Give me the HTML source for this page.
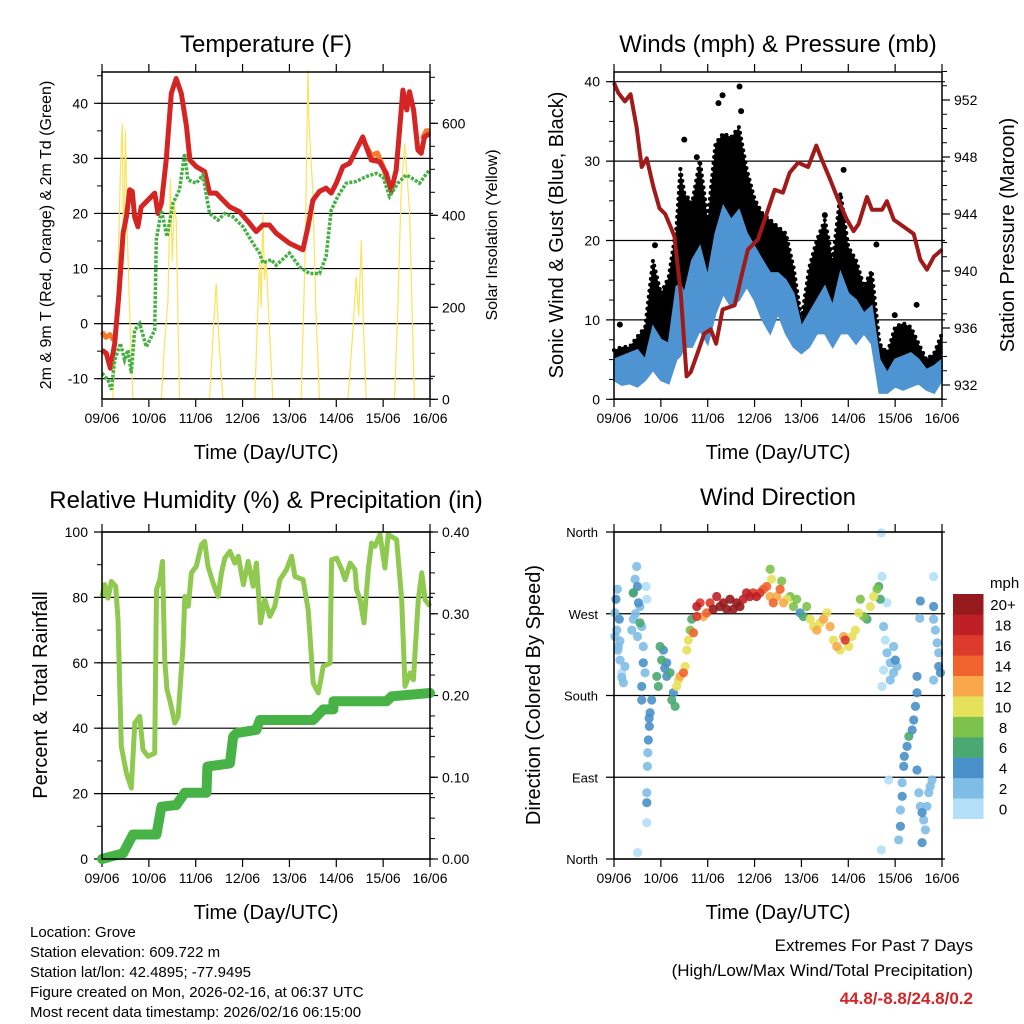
<!DOCTYPE html>
<html><head><meta charset="utf-8"><style>
body{margin:0;background:#fff;}
svg{display:block;font-family:"Liberation Sans",sans-serif;}
</style></head><body>
<svg id="c" width="1024" height="1024" viewBox="0 0 1024 1024" xmlns="http://www.w3.org/2000/svg">
<rect width="1024" height="1024" fill="#fff"/>
<text x="266" y="52" font-size="24" text-anchor="middle">Temperature (F)</text>
<text x="778" y="52" font-size="24" text-anchor="middle">Winds (mph) &amp; Pressure (mb)</text>
<text x="266" y="508" font-size="24" text-anchor="middle">Relative Humidity (%) &amp; Precipitation (in)</text>
<text x="778" y="505" font-size="24" text-anchor="middle">Wind Direction</text>
<text x="266" y="459" font-size="20" text-anchor="middle">Time (Day/UTC)</text>
<text x="778" y="459" font-size="20" text-anchor="middle">Time (Day/UTC)</text>
<text x="266" y="919" font-size="20" text-anchor="middle">Time (Day/UTC)</text>
<text x="778" y="919" font-size="20" text-anchor="middle">Time (Day/UTC)</text>
<text transform="translate(51,235) rotate(-90)" font-size="16" text-anchor="middle">2m &amp; 9m T (Red, Orange) &amp; 2m Td (Green)</text>
<text transform="translate(497,235) rotate(-90)" font-size="16" text-anchor="middle">Solar Insolation (Yellow)</text>
<text transform="translate(563,235) rotate(-90)" font-size="20" text-anchor="middle">Sonic Wind &amp; Gust (Blue, Black)</text>
<text transform="translate(1014,235) rotate(-90)" font-size="20" text-anchor="middle">Station Pressure (Maroon)</text>
<text transform="translate(47,695) rotate(-90)" font-size="20" text-anchor="middle">Percent &amp; Total Rainfall</text>
<text transform="translate(540,695) rotate(-90)" font-size="20" text-anchor="middle">Direction (Colored By Speed)</text>
<g font-size="15">
<text x="30" y="937">Location: Grove</text>
<text x="30" y="957">Station elevation: 609.722 m</text>
<text x="30" y="977">Station lat/lon: 42.4895; -77.9495</text>
<text x="30" y="997">Figure created on Mon, 2026-02-16, at 06:37 UTC</text>
<text x="30" y="1017">Most recent data timestamp: 2026/02/16 06:15:00</text>
</g>
<g text-anchor="end" font-size="17">
<text x="973" y="951">Extremes For Past 7 Days</text>
<text x="973" y="976">(High/Low/Max Wind/Total Precipitation)</text>
<text x="973" y="1004" fill="#d0262a" font-weight="bold">44.8/-8.8/24.8/0.2</text>
</g>
<text x="990" y="588" font-size="15">mph</text>
</svg>
<script>
// ---- Temperature data (hours since 09/06 00Z) ----
const tempHours=[0,2.2,4.3,6.5,8.7,10.8,12.5,14.2,15.5,16.7,18.4,20.1,23.5,27,28.7,30.4,32.9,35.5,38,40.6,43.3,45,48.3,52.6,55.1,58.5,62,65.4,70.5,75.6,79,82.4,85.8,89.2,96,102.9,105.5,108,111.4,114.8,117.4,120,123.4,126.8,130.2,133.6,135.3,137.9,142.2,145.6,148.1,150.7,154.1,156.1,157.5,159.6,161.8,163.5,165.2,167.7];
const tempRed=[-4.8,-5.4,-8.1,-3.6,5.5,16.4,19.4,24.3,24,19.4,17.6,21.2,22.4,23.7,20,21.8,29.7,41.8,44.5,41.8,35.8,29.7,28.5,27.6,23.7,23.7,22.4,21.2,20.3,18.2,16.7,17.9,17.9,16.4,14.6,13.4,17.6,22.4,24,24.6,23.7,25.5,28.5,29.1,31.5,33.9,32.1,29.7,29.4,27.3,24,27.9,42.4,38.8,42.1,38.8,31.5,30.9,33.9,34.5];
// orange segments separated by null gaps
const orangeHours=[0,2,4,6,null,133,135,138,141,144,146,null,164,166,168];
const tempOrange=[-1.5,-2.5,-2,-3,null,33.5,32.5,30.5,31,28.5,26,null,33.5,35,35];
const dewHours=[0,3,4.8,6.5,9.4,11.6,13.3,15,16.7,19.3,22.7,27,27.8,30.4,33.3,36.3,39.7,42.3,44,48.3,51.7,55.1,59.4,62.8,67.1,72.2,77.3,80.7,82.4,86.7,89.2,96,101.2,106.3,111.4,114.8,117.4,120.8,125.1,130.2,135.3,140.4,143.9,147.3,151.5,155.8,160.1,162.6,167.7];
const dewGreen=[-9,-10.2,-12,-6.6,-3.6,-6.6,-4.8,-9,-1.2,0,-4.2,-1.2,15.2,20.6,15.8,21.8,24.3,30.9,26.1,25.5,27,20,18.8,20,19.4,17.6,14.6,12.8,11,11.6,10.6,12.8,10.3,9.1,9.1,12.2,20.6,23.1,25.5,25.8,26.7,27.3,26.7,23.1,25.5,27,26.1,25.5,27.9];
const solarHours=[0,5.6,8,9.5,10.4,11,12,13,14.5,15.9,30.4,32,33.8,35,36,37,38,39.7,55.1,57,58.5,60,62,78.2,80.7,81.5,82.4,83.2,84.1,87.5,102,104,105.5,106,108,109.5,111.4,126,128.5,130.2,131.5,132.8,134,135.3,149.8,151.5,153.2,155,157.5,158.5,160,168];
const solarW=[0,0,250,500,600,300,585,350,150,0,0,120,216,480,300,426,390,0,0,150,252,120,0,0,300,200,404,260,300,0,0,300,716,600,448,200,0,0,150,267,180,346,150,0,0,200,448,556,411,250,0,0];
const tempTicks=[-10,0,10,20,30,40];
const solarTicks=[0,200,400,600];
const dayLabels=["09/06","10/06","11/06","12/06","13/06","14/06","15/06","16/06"];
// ---- Wind data ----
const windHours=[0,4,8,12,16,20,24,28,32,34,36,40,44,48,52,56,60,64,68,72,76,80,84,88,92,96,100,104,108,112,116,120,124,128,132,136,140,144,148,152,156,160,164,168];
const windLow=[2.4,1.8,2,1.6,2.4,3.7,2.4,2,5,5.5,6.6,6.6,8.7,7,10.8,13.3,11.7,12.5,14.2,12.5,10,8.3,10.8,8.3,6.6,5.8,6.6,8.3,8.3,6.6,8.3,8.3,7,8.3,7,0.8,0.8,1.6,1.2,1.6,2,1.2,0.8,2.4];
const windHigh=[5,5.4,5.8,6.2,5,9.1,7.5,7,14.2,14.5,13.3,17.5,19.2,15.4,20.9,24.3,22.6,23.8,20.9,19.2,17.5,15.9,15.9,15,13.3,9.1,10.8,12.5,14.2,11.7,15.9,13.3,12.5,10.8,11.7,5,3.3,5,5.4,5.8,5,3.7,4.2,5];
const gustHigh=[6.2,6.6,6.6,7.9,9.1,17.5,13.3,15.4,21.7,29,26,24.7,30.1,22.6,32.2,33.5,33,34.3,28.9,25.2,23.4,22.6,21.7,20.9,16.6,10,16.6,20.1,22.6,17.5,26,19.2,17.5,14.2,16.2,7,5.8,9.1,9.6,9.1,7,5,5.8,8.3];
const gustOutlierHours=[42.4,36,53.5,55.6,64.3,65.1,21,3,117.6,108,134.4,155,143.8];
const gustOutliers=[30.5,32.7,37.3,38.3,39.4,36.3,19.4,9.4,28.9,23.2,19.5,11.9,10.6];
const presHours=[0,2.2,5.6,8.5,11.6,14.2,16.8,20.2,23.3,26.2,29,31,34.2,37.2,39.3,42.7,46.2,49.6,52.3,55.6,61.8,65.2,68.6,73.7,78.9,82.3,86.5,90,94.3,99.4,103.6,106.5,110.8,114.2,119.3,122.7,125.3,129.6,132.1,137.3,139.8,143.3,148.4,153.5,156.9,160.3,163.8,168];
const presMb=[953.2,952.5,951.9,952.4,950.1,947.3,947.9,945.9,944.4,944,943.1,942.4,938.4,932.6,932.9,934.2,935.6,935.9,934.9,937.3,937.6,939.6,941.5,942.2,944.3,945.7,945.5,946.9,947.6,947.3,948.8,947.8,946.4,945.2,943.6,942.8,943.3,945.2,944.3,944.3,944.9,943.6,943.1,942.6,940.8,940.1,941,941.5];
const windTicks=[0,10,20,30,40];
const presTicks=[932,936,940,944,948,952];
// ---- RH / precip ----
const rhHours=[0,1.4,3.1,4.8,7,8.2,9.9,12.5,15,16.8,19.3,21,23.6,27,27.9,29.6,31,32.1,33.3,34.7,37.3,39,41.5,42.4,44.2,45.8,48.3,50.9,52.6,54.3,56.9,59.4,61.2,62.9,65.5,68,69.8,72.4,74.9,77.4,79.1,81.2,83.4,86,88.5,91.1,94.5,97.1,98.8,103,105.6,108.2,110.8,113.3,116.8,117.6,120.2,122.8,124.5,127.1,129.6,130.4,132.2,134.2,136.4,138.1,139.8,142.4,144.9,146.6,150.9,153.5,155.2,157.8,159.5,162,163.8,165.5,168];
const rhPct=[80.3,83.9,79.8,84.9,83.4,73.2,34.5,26.3,21.7,41.6,43.6,33.4,31.4,32.4,82.4,85.4,91,61,51.8,48.7,41.6,43.6,65,80.3,77.3,87.5,89.5,96.1,97.1,89.5,84.4,80.3,87.5,92,94.1,90.5,92.6,83.9,91,83.4,90.5,72.2,79.3,74.2,77.3,85.4,88.5,92.6,86.4,85.4,76.2,53.8,50.8,58.9,59.9,91.5,92,88.5,85.4,90.5,88.5,82.4,79.3,72.2,88.5,96.6,95.6,99.2,89,99.2,97.7,79.3,52.8,56.9,54.8,79.3,87.5,79.3,77.3];
const precipHours=[0,10.8,15.9,27.9,30.4,38.1,42.4,53.5,54,65.5,67.2,69,79.1,80.9,108.2,113.3,118.5,118.5,145.8,148.4,168];
const precipIn=[0,0.007,0.03,0.03,0.064,0.066,0.081,0.081,0.113,0.117,0.15,0.154,0.158,0.17,0.17,0.183,0.183,0.193,0.193,0.199,0.203];
const rhTicks=[0,20,40,60,80,100];
const precipTicks=["0.00","0.10","0.20","0.30","0.40"];
// ---- Wind direction obs: [hour, degrees, mph] ----
const dirObs=[[0.5,271,3],[1.4,252,2],[2.2,234,3],[3.1,219,2],[3.9,205,1],[4.8,194,2],[1,286,4],[2.7,264,4],[5.6,212,3],[1.7,297,3],[0.5,245,3],[3,240,2],[2,230,2],[4,200,2],
[9.9,293,4],[10.8,308,3],[11.6,322,2],[12.5,282,4],[9.9,264,3],[9.1,252,2],[12,300,4],[13.3,278,3],[14.2,256,2],[15,234,3],[15,216,4],[14.2,190,4],[14.2,175,4],[16.4,300,1],[16.8,286,1],[15.9,205,2],[13.3,260,6],[9.9,293,6],[11,270,3],[12,245,3],
[18.5,161,4],[19.3,175,4],[18.1,146,4],[17.6,131,4],[17.3,117,2],[17.1,102,2],[16.8,73,3],[16.8,62,4],[16.8,40,1],[12.1,7,1],[18,155,4],
[21.9,201,7],[23.6,234,6],[25.3,230,4],[27,216,4],[24.4,219,6],[22.7,190,6],[28.7,205,6],[29.6,175,6],[31.3,168,6],[30.4,183,5],[27,201,4],[26,210,4],[32.1,190,10],[33.8,201,12],[35.6,205,14],[33,197,10],[36.4,212,10],[37.3,230,10],[38.1,241,10],[39,252,8],[39.8,264,6],[40.7,249,14],[42.4,267,16],
[42.4,278,18],[44.1,282,16],[45.8,267,12],[47.5,271,14],[49.2,282,16],[50.9,275,20],[52.6,289,18],[54.3,278,20],[56,282,20],[57.7,275,20],[59.4,286,20],[61.1,275,20],[62.8,282,20],[64.5,278,20],[66.2,286,18],[67.9,293,18],[69.6,289,18],[71.3,293,16],[73,289,18],[74.8,293,16],[76.5,297,14],[78.2,300,14],[79.9,289,12],[81.6,282,14],[80.7,308,10],[80,319,8],[83.4,289,12],[85.9,306,8],[85.1,297,14],[86.8,282,12],[88.5,286,10],[90.2,289,8],[91.9,278,8],[93.6,286,8],[95.3,271,4],[97,267,6],[98.7,278,8],[100.5,264,10],[102.2,256,10],[103.9,252,12],[105.6,260,10],[107.3,264,12],[109,271,10],[110.7,256,12],[112.4,241,10],[114.1,234,12],[115.8,230,10],[117.6,245,12],[118.4,241,16],[120.2,234,10],[121.9,245,10],[123.6,252,10],[125.3,271,10],[126.2,286,8],[127.9,267,8],[129.6,264,6],[131.3,278,10],[133,289,10],[134.7,297,8],[136.4,286,6],[135.6,300,6],
[137.3,311,1],[138.1,256,2],[139,241,1],[139.8,227,2],[138.1,208,1],[137.3,190,1],[141.5,216,3],[143.2,234,2],[144.1,219,4],[143.2,205,3],[144.9,212,3],[141.5,197,2],[139.8,282,1],[136.9,359,1],[140.7,87,1],[136.9,10,1],
[155.2,201,4],[155.2,183,4],[154.4,168,4],[153.5,153,4],[152.7,142,4],[151,135,6],[150.1,124,4],[148.7,113,4],[148.4,102,4],[147.6,84,3],[147.6,69,4],[146.7,54,3],[146.7,36,4],[145.8,21,3],[156.9,284,4],[156.6,265,2],[155.2,98,4],
[156.1,73,2],[156.9,58,2],[157.8,51,4],[158.6,43,3],[159.5,32,2],[160.3,58,2],[161.2,73,3],[162,80,2],[162.9,87,2],[157.8,18,4],[163.7,278,4],[164.6,252,2],[165.5,238,2],[166.3,227,3],[166.3,212,4],[167.2,205,4],[163.7,264,2],[163.7,311,1],[163.7,197,2]];
const speedColors=["#b3e0f8","#80bde6","#4a90c8","#4aa872","#7dc24c","#e6e15a","#f8a84a","#f1632d","#dc3a2b","#be1e25","#961a1c"];
const speedLabels=["0","2","4","6","8","10","12","14","16","18","20+"];
const dirTicks=[0,90,180,270,360];
const dirLabels=["North","East","South","West","North"];

const NS="http://www.w3.org/2000/svg";
const svg=document.getElementById('c');
function mk(tag,attrs,parent){const e=document.createElementNS(NS,tag);for(const k in attrs)e.setAttribute(k,attrs[k]);(parent||svg).appendChild(e);return e;}
function lin(d0,d1,r0,r1){return v=>r0+(v-d0)*(r1-r0)/(d1-d0);}
function pts(xs,ys,fx,fy){return xs.map((h,i)=>fx(h).toFixed(1)+','+fy(ys[i]).toFixed(1)).join(' ');}
function pathD(xs,ys,fx,fy){let d='',pen=false;xs.forEach((h,i)=>{if(h===null||ys[i]===null){pen=false;return;}d+=(pen?'L':'M')+fx(h).toFixed(1)+','+fy(ys[i]).toFixed(1);pen=true;});return d;}

const P={tl:[102,430,72,399],tr:[614,942,72,399],bl:[102,430,532,859],br:[614,942,532,859]};
function frame(key,name){
  const [x0,x1,y0,y1]=P[key];
  const g=mk('g',{});
  
  
  const fx=lin(0,168,x0,x1);
  for(let d=0;d<=7;d++){
    const x=fx(d*24);
    const t1=mk('line',{x1:x,x2:x,y1:y0,y2:y0-8,stroke:'#000','stroke-width':1.2},g);
    
    
    const t2=mk('line',{x1:x,x2:x,y1:y1,y2:y1+8,stroke:'#000','stroke-width':1.2},g);
    
    
    const lb=mk('text',{x:x,y:y1+24,'font-size':14,'text-anchor':'middle'},g);
    
    
    lb.textContent=dayLabels[d];
  }
  return {g,fx,x0,x1,y0,y1};
}
function border(f){
  const r=mk('rect',{x:f.x0,y:f.y0,width:f.x1-f.x0,height:f.y1-f.y0,fill:'none',stroke:'#000','stroke-width':1.5});
  
  
}
function leftAxis(f,ticks,fy,minorStep,labels){
  ticks.forEach((v,i)=>{
    const y=fy(v);
    const gl=mk('line',{x1:f.x0-8,x2:f.x1+3,y1:y,y2:y,stroke:'#000','stroke-width':1.2},f.g);
    
    
    const lb=mk('text',{x:f.x0-14,y:y+5,'font-size':14,'text-anchor':'end'},f.g);
    
    
    lb.textContent=labels?labels[i]:v;
  });
  if(minorStep){
    const lo=ticks[0]-minorStep*4, hi=ticks[ticks.length-1]+minorStep*4;
    for(let v=lo;v<=hi;v+=minorStep){const y=fy(v);if(y<f.y0-0.5||y>f.y1+0.5)continue;
      const m=mk('line',{x1:f.x0,x2:f.x0-5,y1:y,y2:y,stroke:'#000','stroke-width':1},f.g);
      
      }
  }
}
function rightAxis(f,ticks,fy,minorStep,labels){
  ticks.forEach((v,i)=>{
    const y=fy(v);
    const t=mk('line',{x1:f.x1,x2:f.x1+8,y1:y,y2:y,stroke:'#000','stroke-width':1.2},f.g);
    
    
    const lb=mk('text',{x:f.x1+12,y:y+5,'font-size':14},f.g);
    
    
    lb.textContent=labels?labels[i]:v;
  });
  if(minorStep){
    for(let v=ticks[0]-minorStep*6;v<=ticks[ticks.length-1]+minorStep*6;v+=minorStep){const y=fy(v);if(y<f.y0-0.5||y>f.y1+0.5)continue;
      const m=mk('line',{x1:f.x1,x2:f.x1+5,y1:y,y2:y,stroke:'#000','stroke-width':1},f.g);
      
      }
  }
}

// ===== Temperature =====
{
const f=frame('tl','temperature');
const fy=lin(40,-10,103.3,378.7);
const fs=lin(0,600,399.3,123.3);
leftAxis(f,tempTicks,fy,5);
rightAxis(f,solarTicks,fs,50);
const s=mk('polyline',{points:pts(solarHours,solarW,f.fx,fs),fill:'none',stroke:'#fbe35a','stroke-width':1.2});


const o=mk('path',{d:pathD(orangeHours,tempOrange,f.fx,fy),fill:'none',stroke:'#f47b2a','stroke-width':5,'stroke-linejoin':'round'});


const r=mk('polyline',{points:pts(tempHours,tempRed,f.fx,fy),fill:'none',stroke:'#d42424','stroke-width':5,'stroke-linejoin':'round'});


const g=mk('polyline',{points:pts(dewHours,dewGreen,f.fx,fy),fill:'none',stroke:'#44b044','stroke-width':3.5,'stroke-dasharray':'3 1.5'});


border(f);
}
// ===== Winds =====
{
const f=frame('tr','winds');
const fy=lin(0,40,399.3,81.7);
const fp=lin(932,952,385,100);
leftAxis(f,windTicks,fy,2.5);
rightAxis(f,presTicks,fp,1);
const gp=pts(windHours,gustHigh,f.fx,fy)+' '+pts(windHours.slice().reverse(),windHigh.slice().reverse(),f.fx,fy);
const ga=mk('polygon',{points:gp,fill:'#000'});


const gl=mk('polyline',{points:pts(windHours,gustHigh,f.fx,fy),fill:'none',stroke:'#000','stroke-width':4,'stroke-linecap':'round','stroke-dasharray':'0 6'});


gustOutlierHours.forEach((h,i)=>{
  const c=mk('circle',{cx:f.fx(h),cy:fy(gustOutliers[i]),r:3,fill:'#000'});
  
  
});
const bp=pts(windHours,windHigh,f.fx,fy)+' '+pts(windHours.slice().reverse(),windLow.slice().reverse(),f.fx,fy);
const ba=mk('polygon',{points:bp,fill:'#4f94d2',stroke:'#4f94d2','stroke-width':2});


const p=mk('polyline',{points:pts(presHours,presMb,f.fx,fp),fill:'none',stroke:'#a01a1a','stroke-width':4,'stroke-linejoin':'round'});


border(f);
}
// ===== RH =====
{
const f=frame('bl','humidity');
const fy=lin(0,100,859,532);
const fq=lin(0,0.4,859,532);
leftAxis(f,rhTicks,fy,10);
rightAxis(f,precipTicks.map(Number),fq,0.025,precipTicks);
const r=mk('polyline',{points:pts(rhHours,rhPct,f.fx,fy),fill:'none',stroke:'#8fc950','stroke-width':5,'stroke-linejoin':'round'});


const q=mk('polyline',{points:pts(precipHours,precipIn,f.fx,fq),fill:'none',stroke:'#47b347','stroke-width':10,'stroke-linejoin':'round','stroke-linecap':'round'});


border(f);
}
// ===== Wind direction =====
{
const f=frame('br','wind-direction');
const fy=lin(0,360,859,532);
dirTicks.forEach((v,i)=>{
  const y=fy(v);
  const gl=mk('line',{x1:f.x0-8,x2:f.x1+3,y1:y,y2:y,stroke:'#000','stroke-width':1.2},f.g);
  
  
  const lb=mk('text',{x:f.x0-16,y:y+5,'font-size':13,'text-anchor':'end'},f.g);
  
  
  lb.textContent=dirLabels[i];
});
const sorted=dirObs.slice().sort((a,b)=>a[2]-b[2]);
sorted.forEach(o=>{
  const c=mk('circle',{cx:f.fx(o[0]),cy:fy(o[1]),r:4.6,fill:speedColors[Math.min(10,Math.floor(o[2]/2))],'fill-opacity':0.9});
  
  
});
border(f);
const cb=mk('g',{});


const bh=224.7/11;
for(let i=0;i<11;i++){
  const y=818.7-(i+1)*bh;
  const rr=mk('rect',{x:953,y:y,width:30.5,height:bh+0.3,fill:speedColors[i]},cb);
  
  
  const t=mk('text',{x:1003,y:y+bh/2+6,'font-size':15,'text-anchor':'middle'},cb);
  
  
  t.textContent=speedLabels[i];
}
}
</script>
</body></html>
